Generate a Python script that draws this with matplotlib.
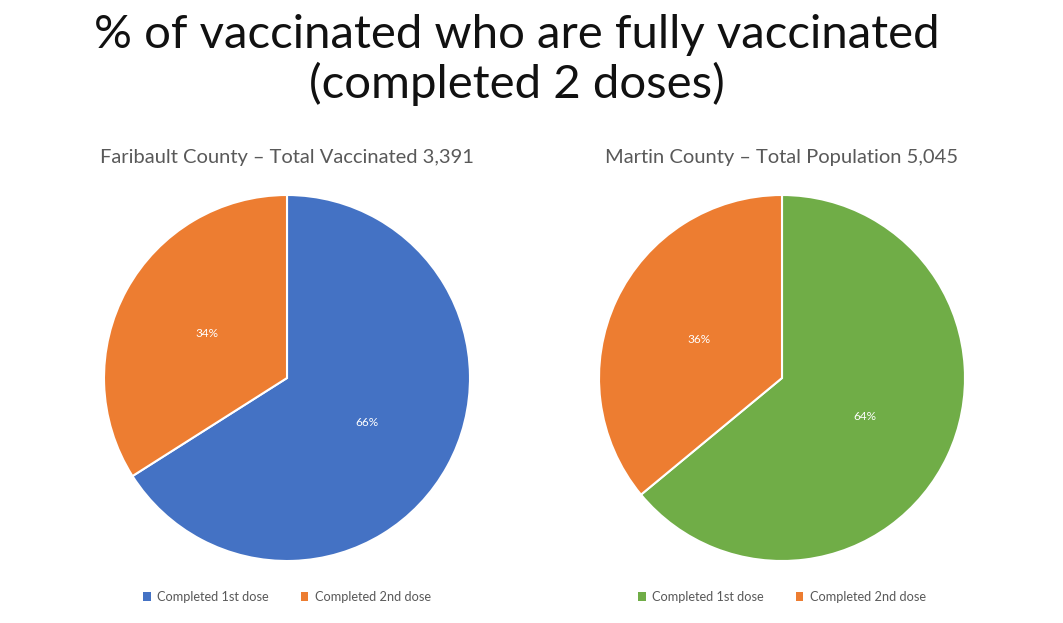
import matplotlib
matplotlib.use("Agg")
import matplotlib.pyplot as plt
from matplotlib.patches import Patch

title = "% of vaccinated who are fully vaccinated\n(completed 2 doses)"
categories = ["Completed 1st dose", "Completed 2nd dose"]
faribault_values = [66, 34]
martin_values = [64, 36]
subtitles = ["Faribault County \u2013 Total Vaccinated 3,391",
             "Martin County \u2013 Total Population 5,045"]

plt.rcParams['font.family'] = ['Lato', 'DejaVu Sans']

fig = plt.figure(figsize=(10.63, 6.23), dpi=100)
fig.patch.set_facecolor('white')

W, H = 1063, 623
grey = '#595959'

fig.text(517 / W, 1 - 60 / H, title, ha='center', va='center', fontsize=34,
         color='#111111', linespacing=1.15)

def make_pie(cx, values, colors, sub):
    r = 183
    cy = 378
    ax = fig.add_axes([(cx - r) / W, 1 - (cy + r) / H, 2 * r / W, 2 * r / H])
    wedges, texts, autotexts = ax.pie(values, colors=colors, startangle=90,
                                      counterclock=False, autopct='%1.0f%%',
                                      pctdistance=0.5,
                                      wedgeprops=dict(edgecolor='white', linewidth=1.5),
                                      textprops=dict(color='white', fontsize=8.5))
    ax.set_xlim(-1.0, 1.0)
    ax.set_ylim(-1.0, 1.0)
    ax.set_aspect('equal')
    ax.axis('off')
    fig.text(cx / W, 1 - 157 / H, sub, ha='center', va='center', fontsize=14.5, color=grey)
    handles = [Patch(facecolor=c, edgecolor='none') for c in colors]
    fig.legend(handles, categories, loc='center', bbox_to_anchor=(cx / W, 1 - 597 / H),
               ncol=2, frameon=False, fontsize=9.2, labelcolor=grey,
               handlelength=0.6, handleheight=0.6, handletextpad=0.5, columnspacing=2.5)

make_pie(287, faribault_values, ['#4472C4', '#ED7D31'], subtitles[0])
make_pie(782, martin_values, ['#70AD47', '#ED7D31'], subtitles[1])

fig.savefig('out.png', dpi=100, facecolor='white')
